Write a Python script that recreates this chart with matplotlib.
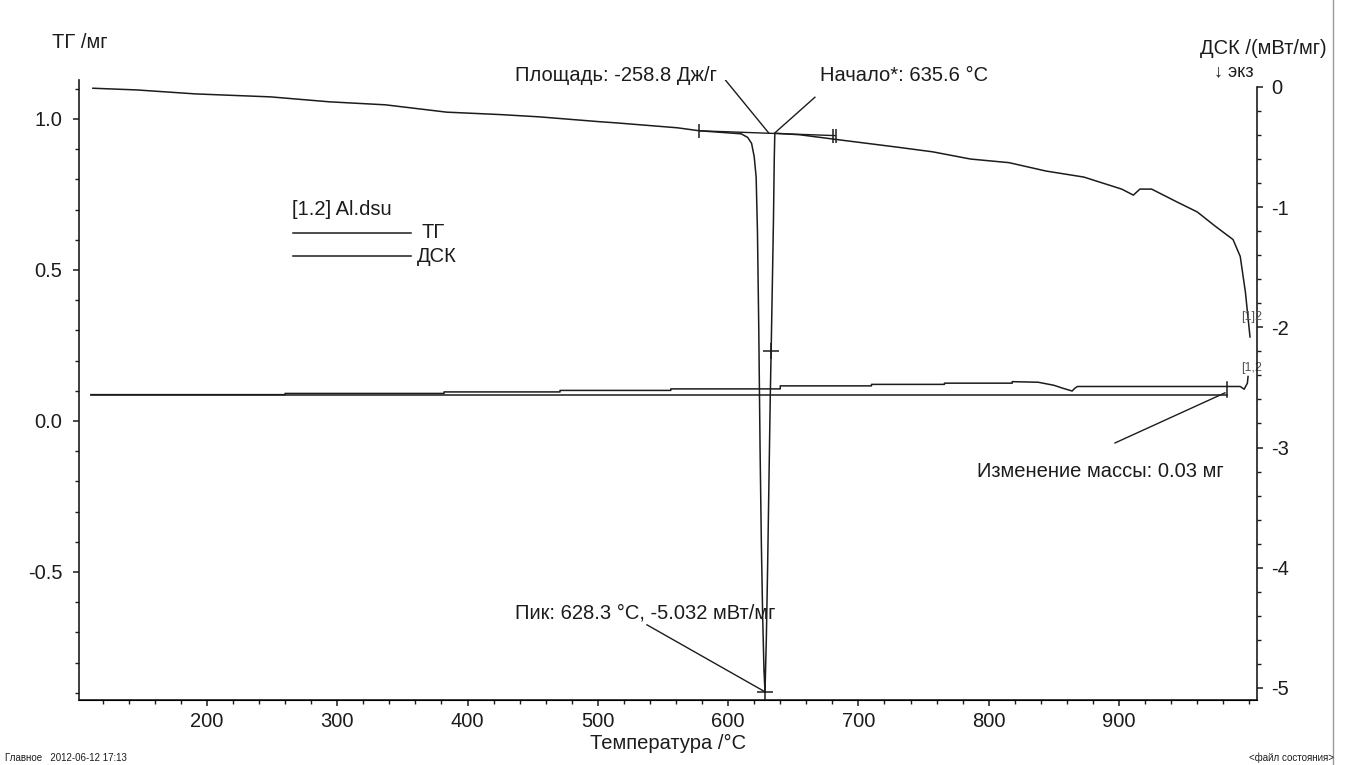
import numpy as np
import matplotlib.pyplot as plt
from matplotlib.ticker import MultipleLocator, FormatStrFormatter

plt.rcParams['font.family'] = ['Liberation Sans', 'DejaVu Sans']
plt.rcParams['axes.unicode_minus'] = False

# DSC curve, mW/mg (right axis)
dsc_temp = [112.5, 146, 191, 249, 294, 337, 384, 425, 455, 502, 514, 561, 578, 610,
            615, 618, 620, 621.5, 622.5, 623.5, 624.5, 625.5, 626.5, 627.5, 628.3,
            629.3, 630.3, 631.3, 632.3, 633, 634, 634.8, 635.4, 635.8, 636,
            655, 685, 729, 757, 786, 815.5, 844, 873, 902, 911, 916, 925, 945, 960,
            974, 987.5, 993, 997, 1000.5]
dsc_val = [-0.011, -0.025, -0.058, -0.083, -0.124, -0.149, -0.21, -0.23, -0.249, -0.29,
           -0.299, -0.34, -0.365, -0.39,
           -0.42, -0.47, -0.58, -0.75, -1.2, -2.0, -3.0, -3.8, -4.4, -4.85, -5.032,
           -4.6, -4.0, -3.3, -2.6, -2.2, -1.6, -1.1, -0.6, -0.4, -0.385,
           -0.398, -0.44, -0.50, -0.54, -0.60, -0.63, -0.70, -0.75, -0.85, -0.90, -0.85,
           -0.85, -0.96, -1.04, -1.16, -1.27, -1.41, -1.71, -2.08]

# TG curve, mg (left axis)
tg_temp = [111, 260, 260, 382, 382, 471, 471, 556, 556, 640, 640, 710, 710, 766, 766,
           818, 818, 838, 850, 857, 864, 866, 868, 983, 993, 996, 998.5, 999]
tg_val = [0.087, 0.087, 0.091, 0.091, 0.096, 0.096, 0.101, 0.101, 0.106, 0.106, 0.116,
          0.116, 0.121, 0.121, 0.125, 0.125, 0.130, 0.128, 0.118, 0.108, 0.099, 0.108,
          0.114, 0.114, 0.114, 0.105, 0.125, 0.147]

# mass-change reference line
ref_temp = [111, 983]
ref_val = [0.086, 0.086]

# peak evaluation baseline
base_temp = [578, 682]
base_val = [-0.365, -0.405]

peak_t, peak_v = 628.3, -5.032
onset_t = 635.6

ink = '#1c1c1c'

fig = plt.figure(figsize=(13.45, 7.65), dpi=100)
ax = fig.add_axes([0.0587, 0.085, 0.8759, 0.8105])
ax2 = ax.twinx()

ax.set_xlim(101.8, 1005.9)
ax.set_ylim(-0.924, 1.129)
ax2.set_ylim(-5.10, 0.058)

ax.plot(tg_temp, tg_val, color=ink, lw=1.1)
ax.plot(ref_temp, ref_val, color=ink, lw=1.1)
ax.plot([983, 983], [0.079, 0.129], color=ink, lw=1.1)

ax2.plot(dsc_temp, dsc_val, color=ink, lw=1.1)
ax2.plot(base_temp, base_val, color=ink, lw=1.0)
ax2.plot([base_temp[0]], [base_val[0]], marker='|', ms=10, color=ink, mew=1.1)
ax2.plot([680.3, 682.6], [-0.405, -0.405], ls='none', marker='|', ms=10, color=ink, mew=1.1)
ax2.plot([peak_t], [peak_v], marker='+', ms=11, color=ink, mew=1.1)
ax2.plot([633], [-2.2], marker='+', ms=11, color=ink, mew=1.1)

# spines and ticks
ax.spines['top'].set_visible(False)
ax.spines['right'].set_visible(False)
ax2.spines['top'].set_visible(False)
ax2.spines['left'].set_visible(False)
ax2.spines['right'].set_bounds(-5.10, 0)
for sp in ['left', 'bottom']:
    ax.spines[sp].set_linewidth(1.2)
    ax.spines[sp].set_color(ink)
ax2.spines['right'].set_linewidth(1.2)
ax2.spines['right'].set_color(ink)

ax.xaxis.set_major_locator(MultipleLocator(100))
ax.xaxis.set_minor_locator(MultipleLocator(20))
ax.yaxis.set_major_locator(MultipleLocator(0.5))
ax.yaxis.set_minor_locator(MultipleLocator(0.1))
ax.yaxis.set_major_formatter(FormatStrFormatter('%.1f'))
ax2.yaxis.set_major_locator(MultipleLocator(1))
ax2.yaxis.set_minor_locator(MultipleLocator(0.2))

ax.set_xticks([200, 300, 400, 500, 600, 700, 800, 900])
for a in (ax, ax2):
    a.tick_params(which='major', length=4, width=1.1, color=ink, labelsize=14.5,
                  labelcolor=ink)
    a.tick_params(which='minor', length=3, width=1.0, color=ink)
ax.tick_params(axis='x', pad=5)
ax.tick_params(axis='y', pad=8)
ax2.tick_params(axis='y', pad=6)

ax.set_xlabel('Температура /°C', fontsize=14.5, color=ink, labelpad=2)

fig.text(0.0387, 0.944, 'ТГ /мг', fontsize=14.5, color=ink, va='center', ha='left')
fig.text(0.986, 0.937, 'ДСК /(мВт/мг)', fontsize=14.5, color=ink, va='center', ha='right')
fig.text(0.9175, 0.906, '↓ экз', fontsize=13, color=ink, va='center', ha='center')

# legend
ax.text(265, 0.699, '[1.2] Al.dsu', fontsize=14.5, color=ink, va='center')
ax.plot([266, 357], [0.6225, 0.6225], color=ink, lw=1.1)
ax.plot([266, 357], [0.546, 0.546], color=ink, lw=1.1)
ax.text(365, 0.6225, 'ТГ', fontsize=14.5, color=ink, va='center')
ax.text(361, 0.546, 'ДСК', fontsize=14.5, color=ink, va='center')

# annotations
ax2.text(436.4, 0.097, 'Площадь: -258.8 Дж/г', fontsize=14.5, color=ink, va='center')
ax2.plot([598, 631.3], [0.056, -0.385], color=ink, lw=1.0)
ax2.text(670.5, 0.097, 'Начало*: 635.6 °C', fontsize=14.5, color=ink, va='center')
ax2.plot([666.6, onset_t], [-0.086, -0.385], color=ink, lw=1.0)
ax2.text(436.4, -4.375, 'Пик: 628.3 °C, -5.032 мВт/мг', fontsize=14.5, color=ink, va='center')
ax2.plot([537.7, peak_t], [-4.475, peak_v], color=ink, lw=1.0)
ax.text(791, -0.169, 'Изменение массы: 0.03 мг', fontsize=14.5, color=ink, va='center')
ax.plot([896.9, 981.3], [-0.073, 0.093], color=ink, lw=1.0)

ax2.text(994, -1.91, '[1]2', fontsize=9, color='#555555', va='center')
ax.text(994, 0.175, '[1,2', fontsize=9, color='#555555', va='center')

# footer
fig.text(0.004, 0.009, 'Главное   2012-06-12 17:13', fontsize=7, color=ink, va='center')
fig.text(0.992, 0.009, '<файл состояния>', fontsize=7, color=ink, va='center', ha='right')
fig.add_artist(plt.Line2D([0.991, 0.991], [0.0, 1.0], color='#999999', lw=1.0))

fig.savefig('out.png', dpi=100, facecolor='white')
